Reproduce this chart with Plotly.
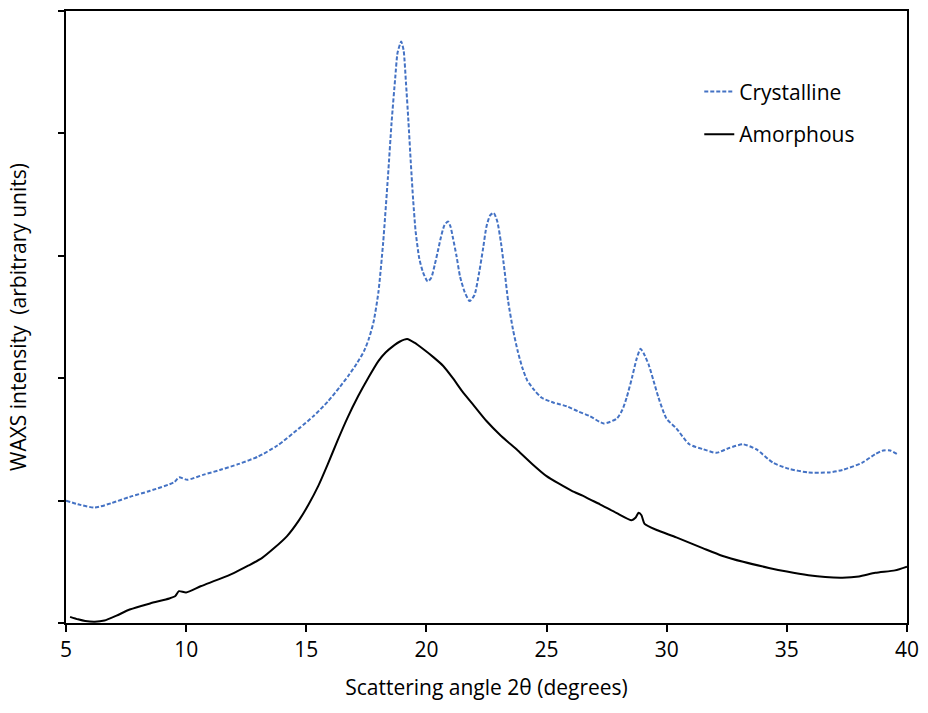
import plotly.graph_objects as go

# Crystalline (blue dashed) sample
cry_x = [5.0, 5.5, 6.2, 6.9, 7.65, 8.5, 9.5, 9.7, 10.05, 10.7, 11.4, 12.2, 13.0, 13.8, 14.7, 15.3,
         15.9, 16.4, 16.75, 17.1, 17.4, 17.6, 17.8, 18.0, 18.2, 18.4, 18.55, 18.7, 18.8, 18.95,
         19.05, 19.15, 19.25, 19.35, 19.45, 19.55, 19.7, 19.85, 20.05, 20.2, 20.35, 20.5, 20.6,
         20.75, 20.9, 21.0, 21.1, 21.25, 21.4, 21.6, 21.8, 22.0, 22.2, 22.35, 22.5, 22.65, 22.8,
         22.95, 23.1, 23.25, 23.4, 23.6, 23.8, 24.0, 24.2, 24.5, 24.8, 25.3, 25.85, 26.3, 26.8,
         27.38, 27.92, 28.15, 28.33, 28.55, 28.75, 28.91, 29.05, 29.25, 29.45, 29.66, 29.99,
         30.4, 30.94, 31.52, 32.06, 32.6, 33.18, 33.72, 34.42, 35.08, 35.9, 36.73, 37.31,
         38.14, 38.68, 39.01, 39.3, 39.59]
cry_y = [1.00, 0.97, 0.943, 0.98, 1.03, 1.08, 1.15, 1.19, 1.17, 1.21, 1.25, 1.30, 1.36, 1.45, 1.59, 1.69,
         1.81, 1.93, 2.02, 2.12, 2.22, 2.32, 2.46, 2.70, 3.11, 3.65, 4.09, 4.45, 4.66, 4.75,
         4.68, 4.41, 4.10, 3.76, 3.45, 3.20, 2.98, 2.87, 2.79, 2.82, 2.93, 3.06, 3.15,
         3.25, 3.28, 3.24, 3.15, 3.00, 2.83, 2.70, 2.63, 2.68, 2.87, 3.05, 3.24, 3.33, 3.35,
         3.28, 3.11, 2.88, 2.63, 2.40, 2.22, 2.08, 1.98, 1.90, 1.84, 1.80, 1.77, 1.73, 1.69,
         1.63, 1.67, 1.74, 1.84, 2.00, 2.16, 2.24, 2.20, 2.11, 1.98, 1.84, 1.67,
         1.59, 1.46, 1.42, 1.39, 1.43, 1.46, 1.42, 1.31, 1.26, 1.23, 1.23, 1.25,
         1.31, 1.38, 1.41, 1.41, 1.38]

# Amorphous (black solid) sample
amo_x = [5.17, 5.5, 5.8, 6.2, 6.6, 7.1, 7.65, 8.5, 9.3, 9.55, 9.7, 10.0, 10.6, 11.4, 12.0, 12.6,
         13.15, 13.65, 14.2, 14.7, 15.1, 15.5, 15.9, 16.3, 16.7, 17.15, 17.6, 18.0, 18.3, 18.6,
         18.9, 19.2, 19.5, 19.85, 20.3, 20.7, 21.1, 21.5, 22.0, 22.5, 23.1, 23.8, 24.4, 25.0,
         25.5, 26.05, 26.5, 26.8, 27.22, 27.9, 28.54, 28.7, 28.83, 28.95, 29.08, 29.58, 30.4,
         31.52, 32.3, 33.18, 34.25, 35.0, 35.9, 36.6, 37.31, 38.0, 38.68, 39.5, 40.0]
amo_y = [0.05, 0.03, 0.016, 0.01, 0.02, 0.06, 0.11, 0.16, 0.20, 0.22, 0.26, 0.25, 0.30, 0.36, 0.41, 0.47,
         0.53, 0.61, 0.71, 0.84, 0.97, 1.12, 1.30, 1.49, 1.67, 1.85, 2.01, 2.14, 2.21, 2.26,
         2.30, 2.32, 2.29, 2.24, 2.17, 2.10, 2.00, 1.89, 1.77, 1.65, 1.53, 1.41, 1.30, 1.20,
         1.14, 1.08, 1.04, 1.01, 0.97, 0.90, 0.84, 0.86, 0.90, 0.88, 0.81, 0.76, 0.70,
         0.61, 0.55, 0.50, 0.45, 0.42, 0.39, 0.375, 0.37, 0.38, 0.41, 0.43, 0.46]

x_ticks = [5, 10, 15, 20, 25, 30, 35, 40]
y_ticks = [0, 1, 2, 3, 4, 5]

FONT = "Open Sans"
FS = 21

fig = go.Figure()
fig.add_trace(go.Scatter(x=cry_x, y=cry_y, mode="lines", name="Crystalline", legend="legend",
                         line=dict(color="#4472C4", width=2, dash="4px,2px", shape="spline", smoothing=0.6)))
fig.add_trace(go.Scatter(x=amo_x, y=amo_y, mode="lines", name="Amorphous", legend="legend2",
                         line=dict(color="black", width=2, shape="spline", smoothing=0.6)))

leg_common = dict(xanchor="left", yanchor="middle", bgcolor="rgba(0,0,0,0)",
                  font=dict(family=FONT, size=FS), itemwidth=30)

fig.update_layout(
    width=928, height=713,
    margin=dict(l=66, r=16, t=9, b=90),
    paper_bgcolor="white", plot_bgcolor="white",
    font=dict(family=FONT, size=FS, color="black"),
    showlegend=True,
    legend=dict(x=0.753, y=(623 - 90) / 614, **leg_common),
    legend2=dict(x=0.753, y=(623 - 133) / 614, **leg_common),
    xaxis=dict(range=[5, 40], tickvals=x_ticks, ticks="outside", ticklen=7, tickwidth=2,
               tickcolor="black", showline=True, linecolor="black", linewidth=2, mirror=True,
               showgrid=False, zeroline=False, tickfont=dict(family=FONT, size=FS),
               title=dict(text="Scattering angle 2θ (degrees)", font=dict(family=FONT, size=FS), standoff=18)),
    yaxis=dict(range=[0, 5], tickvals=y_ticks, showticklabels=False, ticks="outside", ticklen=6,
               tickwidth=2, tickcolor="black", showline=True, linecolor="black", linewidth=2,
               mirror=True, showgrid=False, zeroline=False,
               title=dict(text="WAXS intensity  (arbitrary units)", font=dict(family=FONT, size=FS), standoff=26)),
)

fig.write_html("out.html")
